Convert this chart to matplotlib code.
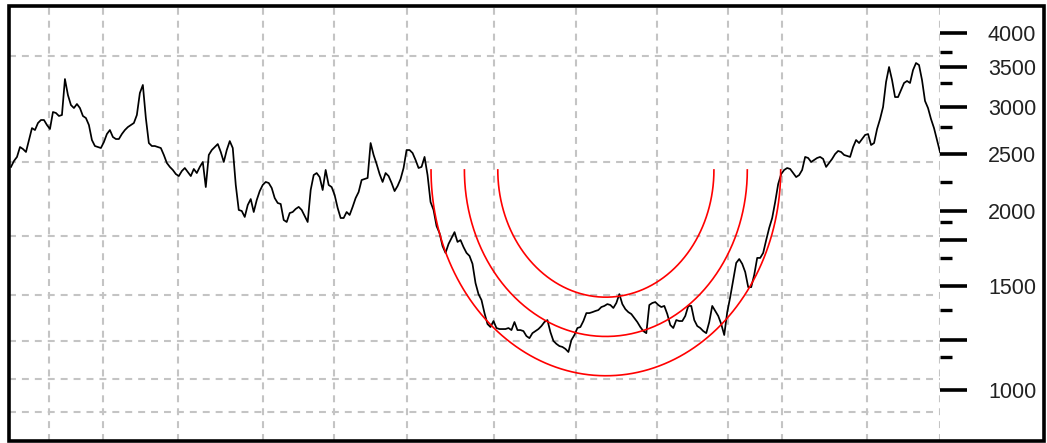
import numpy as np
import matplotlib
matplotlib.use("Agg")
import matplotlib.pyplot as plt
from matplotlib.patches import Rectangle
from matplotlib.ticker import FixedLocator, NullFormatter, FuncFormatter

plt.rcParams["font.family"] = ["Liberation Sans", "DejaVu Sans"]
plt.rcParams["lines.scale_dashes"] = False

# Closing prices, one per bar
closes = [
    2378, 2434, 2472, 2569, 2549, 2520, 2640, 2765, 2744, 2820,
    2853, 2853, 2798, 2755, 2943, 2932, 2898, 2909, 3345, 3143,
    3024, 2989, 3036, 2989, 2898, 2875, 2798, 2640, 2579, 2569,
    2559, 2619, 2702, 2744, 2671, 2650, 2650, 2702, 2744, 2776,
    2798, 2820, 2909, 3168, 3269, 2875, 2609, 2579, 2579, 2569,
    2559, 2491, 2415, 2378, 2350, 2313, 2295, 2340, 2368, 2331,
    2295, 2359, 2322, 2378, 2424, 2199, 2491, 2539, 2569, 2599,
    2520, 2424, 2539, 2629, 2559, 2217, 2012, 2004, 1958, 2051,
    2099, 1996, 2091, 2165, 2217, 2243, 2234, 2191, 2107, 2067,
    2059, 1935, 1920, 1988, 1996, 2020, 2036, 2012, 1965, 1920,
    2174, 2304, 2322, 2286, 2174, 2350, 2217, 2199, 2132, 2028,
    1950, 1950, 1996, 1973, 2036, 2107, 2157, 2260, 2269, 2278,
    2609, 2491, 2405, 2313, 2243, 2322, 2295, 2234, 2165, 2208,
    2269, 2368, 2539, 2539, 2510, 2443, 2368, 2378, 2472, 2304,
    2075, 2012, 1890, 1839, 1749, 1703, 1763, 1804, 1846, 1777,
    1790, 1742, 1703, 1683, 1632, 1515, 1451, 1418, 1348, 1292,
    1277, 1307, 1272, 1267, 1267, 1267, 1272, 1262, 1302, 1262,
    1262, 1257, 1233, 1223, 1247, 1257, 1267, 1282, 1302, 1312,
    1252, 1210, 1196, 1186, 1182, 1173, 1159, 1214, 1238, 1272,
    1277, 1307, 1348, 1348, 1353, 1359, 1364, 1380, 1386, 1396,
    1391, 1375, 1402, 1451, 1396, 1369, 1353, 1343, 1322, 1302,
    1277, 1257, 1247, 1391, 1402, 1407, 1391, 1380, 1386, 1343,
    1287, 1272, 1312, 1307, 1307, 1333, 1386, 1386, 1312, 1282,
    1272, 1257, 1247, 1302, 1386, 1359, 1333, 1292, 1238, 1353,
    1435, 1533, 1638, 1663, 1632, 1581, 1491, 1491, 1563, 1670,
    1670, 1703, 1790, 1876, 1950, 2075, 2225, 2313, 2350, 2368,
    2359, 2322, 2286, 2304, 2350, 2472, 2462, 2424, 2443, 2462,
    2472, 2453, 2378, 2415, 2453, 2500, 2530, 2520, 2491, 2482,
    2472, 2569, 2640, 2609, 2650, 2692, 2702, 2589, 2609, 2755,
    2864, 3001, 3307, 3505, 3332, 3119, 3119, 3206, 3294, 3320,
    3294, 3464, 3560, 3532, 3332, 3072, 2989, 2864, 2765, 2640, 2520,
]

# Period boundaries (bar index) and horizontal grid levels
period_breaks = [12.7, 30.7, 55.7, 84.1, 107.8, 132.1, 161.2, 188.5,
                 215.6, 239.3, 257.3, 285.6, 310.0]
grid_prices = [3660, 2425, 1820, 1445, 1210, 1045, 918]

# Price scale ticks
labeled_ticks = [1000, 1500, 2000, 2500, 3000, 3500, 4000]
unlabeled_major = [1215, 1790]
minor_ticks = [1137, 1365, 1670, 1920, 2245, 2775, 3295, 3715]

# Fibonacci arcs
arc_center_bar = 198.5
arc_center_price = 2350
arc_radius_bars = 94.4
arc_radius_decades = 0.5616
fib_levels = [0.382, 0.5, 0.618]

W, H = 1047, 443
fig = plt.figure(figsize=(W / 100, H / 100), dpi=100)
fig.patch.set_facecolor("white")

ax = fig.add_axes([9 / W, 2 / H, 931 / W, 435 / H])
ax.set_facecolor("white")
for sp in ax.spines.values():
    sp.set_visible(False)

x = np.arange(len(closes))
ax.set_yscale("log")
ax.set_xlim(-0.667, len(closes) - 1)
ax.set_ylim(820.3, 4442)

grid_kw = dict(color="#c4c4c4", lw=1.5, linestyle=(0, (5.0, 4.3)), zorder=1)
for b in period_breaks:
    ax.axvline(b, **grid_kw)
for g in grid_prices:
    ax.axhline(g, **grid_kw)

ax.plot(x, closes, color="black", lw=1.25, zorder=3)

t = np.linspace(0, np.pi, 300)
for lvl in fib_levels:
    bx = arc_center_bar + arc_radius_bars * lvl * np.cos(t)
    ly = np.log10(arc_center_price) - arc_radius_decades * lvl * np.sin(t)
    ax.plot(bx, 10 ** ly, color="#ff0000", lw=1.2, zorder=4)

ax.set_xticks([])
ax.yaxis.set_ticks_position("right")
ax.yaxis.set_major_locator(FixedLocator(sorted(labeled_ticks + unlabeled_major)))
ax.yaxis.set_minor_locator(FixedLocator(minor_ticks))
ax.yaxis.set_major_formatter(
    FuncFormatter(lambda v, p: f"{int(round(v))}" if int(round(v)) in labeled_ticks else ""))
ax.yaxis.set_minor_formatter(NullFormatter())
ax.tick_params(axis="y", which="major", direction="out", length=19.5, width=2.6,
               pad=15, labelsize=15.5, colors="black", right=True, left=False,
               labelright=True, labelleft=False)
ax.tick_params(axis="y", which="minor", direction="out", length=8.5, width=2.4,
               right=True, left=False)
for lab in ax.get_yticklabels():
    lab.set_color("#222222")

frame = Rectangle((8.7 / W, 2 / H), (1044 - 8.7) / W, 435 / H,
                  transform=fig.transFigure, fill=False, edgecolor="black",
                  lw=2.6, zorder=10)
fig.add_artist(frame)

fig.savefig("out.png", dpi=100, facecolor="white")
